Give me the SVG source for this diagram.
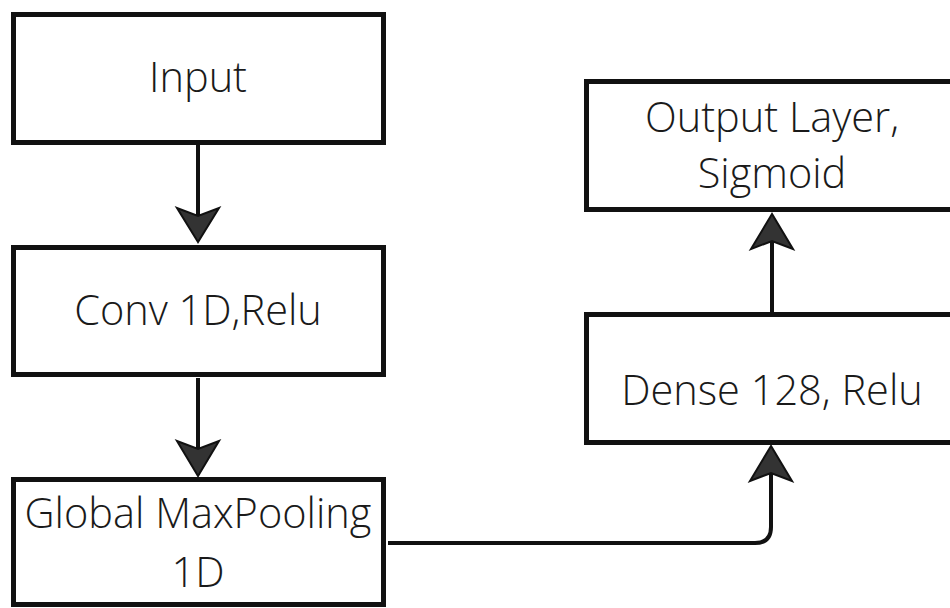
<svg xmlns="http://www.w3.org/2000/svg" width="950" height="608" viewBox="0 0 950 608">
<style>
.box{fill:#fff;stroke:#111;stroke-width:5}
.lbl{font-family:"Open Sans","Liberation Sans",sans-serif;font-size:41.5px;font-weight:350;fill:#1a1a1a;text-anchor:middle}
.edge{fill:none;stroke:#111;stroke-width:4}
.head{fill:#333;stroke:#111;stroke-width:2;stroke-linejoin:miter}
</style>
<rect width="950" height="608" fill="#fff"/>
<g id="connectors">
<line class="edge" x1="198" y1="145" x2="198" y2="236"/>
<path class="head" d="M198,242 L177,208 L198,216 L219,208 Z"/>
<line class="edge" x1="198" y1="378" x2="198" y2="470"/>
<path class="head" d="M198,476 L177,441 L198,449 L219,441 Z"/>
<line class="edge" x1="772" y1="313" x2="772" y2="220"/>
<path class="head" d="M772,214 L751,249 L772,241 L793,249 Z"/>
<path class="edge" d="M388,543 H755 Q771,543 771,527 V452"/>
<path class="head" d="M771,446 L750,481 L771,473 L792,481 Z"/>
</g>
<g id="input">
<rect class="box" x="13.5" y="14.5" width="370" height="128"/>
<text class="lbl" x="198" y="92">Input</text>
</g>
<g id="conv">
<rect class="box" x="13.5" y="247.5" width="370" height="127"/>
<text class="lbl" x="198" y="325">Conv 1D,Relu</text>
</g>
<g id="pool">
<rect class="box" x="13.5" y="479.5" width="370" height="125"/>
<text class="lbl" x="198" y="528">Global MaxPooling</text>
<text class="lbl" x="198" y="587">1D</text>
</g>
<g id="output">
<rect class="box" x="586.5" y="81.5" width="370" height="128"/>
<text class="lbl" x="772" y="132">Output Layer,</text>
<text class="lbl" x="772" y="188">Sigmoid</text>
</g>
<g id="dense">
<rect class="box" x="586.5" y="314.5" width="370" height="128"/>
<text class="lbl" x="772" y="405">Dense 128, Relu</text>
</g>
</svg>
